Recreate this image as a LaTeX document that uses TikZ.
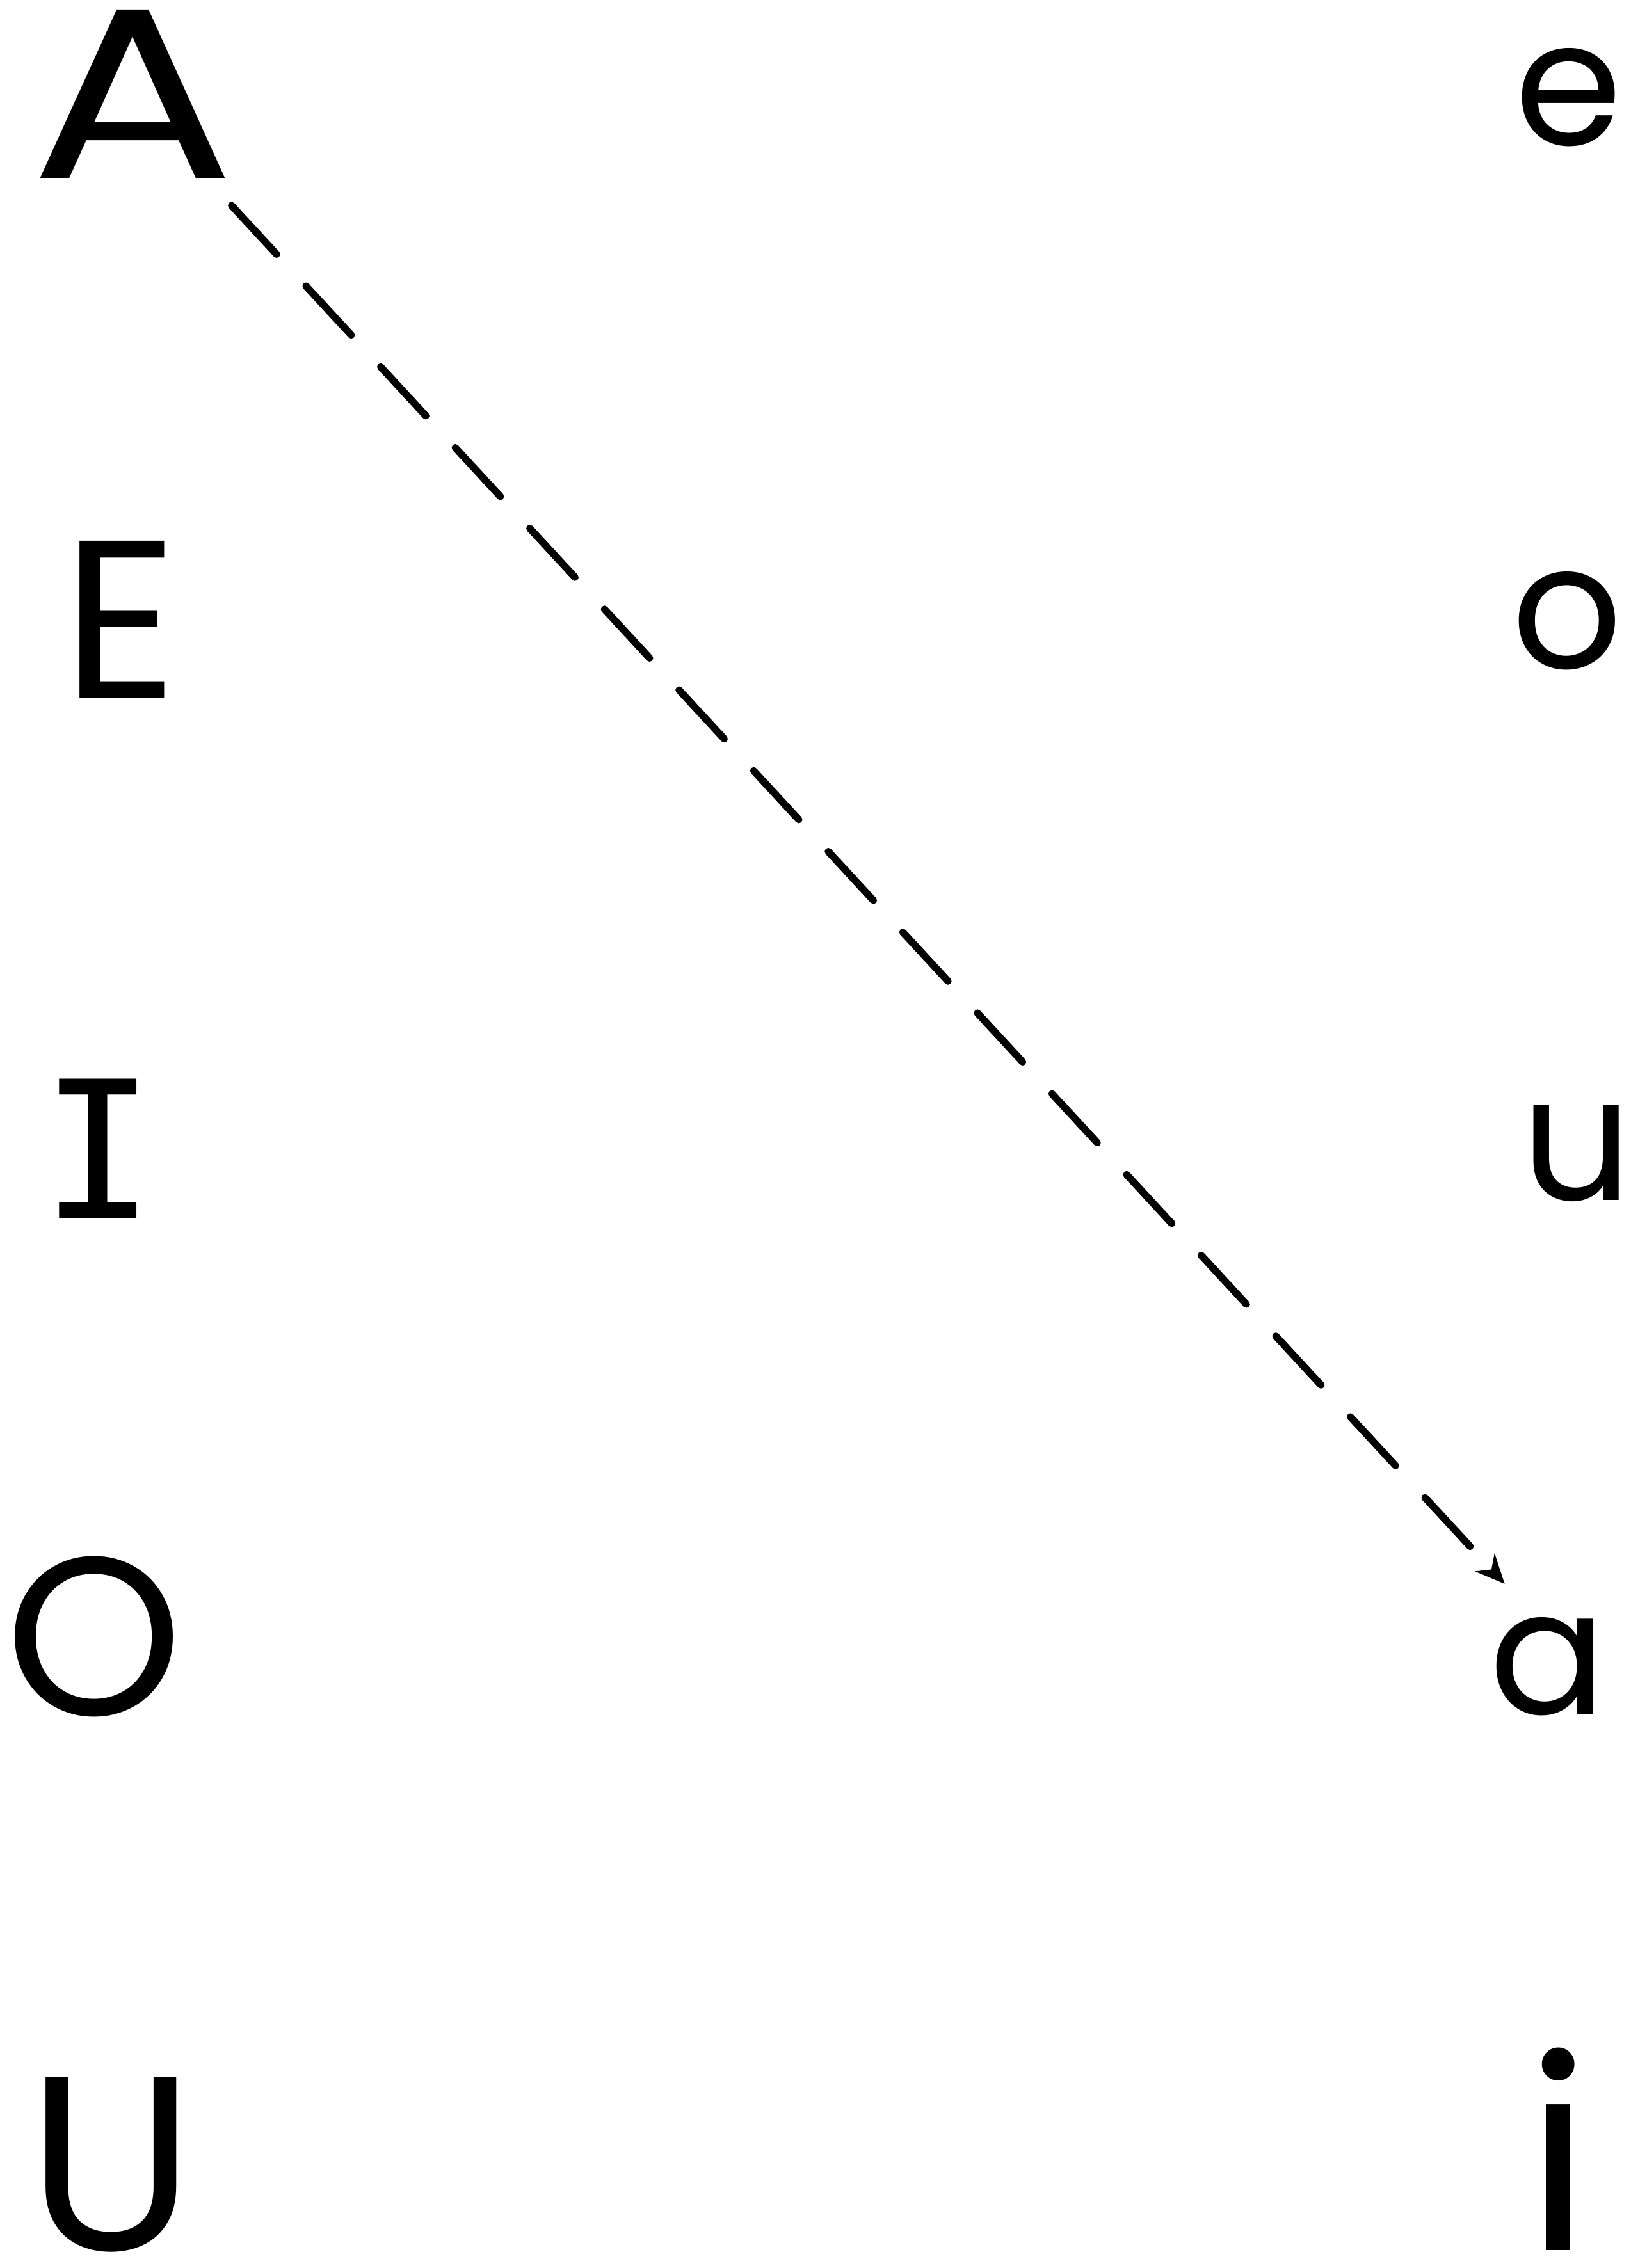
\documentclass[tikz,border=0pt]{standalone}
\usepackage{fontspec}
\setmainfont{Poppins}
\newfontfamily\monobar{DejaVu Sans Mono}
\usetikzlibrary{arrows.meta}
\tikzset{
  x=0.5pt,y=-0.5pt,
  upletter/.style={anchor=base,inner sep=0pt,text depth=0pt,font=\fontsize{78}{80}\selectfont},
  lowletter/.style={anchor=base,inner sep=0pt,text depth=0pt,font=\fontsize{60}{62}\selectfont},
  dasharrow/.style={line width=2.5pt,dash pattern=on 23pt off 15pt,line cap=round,-{Stealth[length=10pt,width=9pt]}}
}
\begin{document}
\begin{tikzpicture}
\useasboundingbox[fill=white] (0,0) rectangle (1138,1568);
\node[upletter,font=\fontsize{84}{86}\selectfont,xscale=1.25,transform shape] (A) at (92,123) {A};
\node[upletter] (E) at (83,483) {E};
\node[upletter,font=\monobar\fontsize{66}{68}\selectfont] (I) at (68,842) {I};
\node[upletter] (O) at (65,1186) {O};
\node[upletter,font=\fontsize{86}{88}\selectfont] (U) at (77,1556) {U};
\node[lowletter] (e) at (1084,100) {e};
\node[lowletter] (o) at (1083,462) {o};
\node[lowletter] (u) at (1090,830) {u};
\node[lowletter] (a) at (1070,1185) {a};
\node[lowletter,font=\fontsize{92}{94}\selectfont] (i) at (1077,1556) {i};
\coordinate (s) at (160,142);
\coordinate (t) at (1040,1095);
\draw[dasharrow] (s) -- (t);
\end{tikzpicture}
\end{document}
